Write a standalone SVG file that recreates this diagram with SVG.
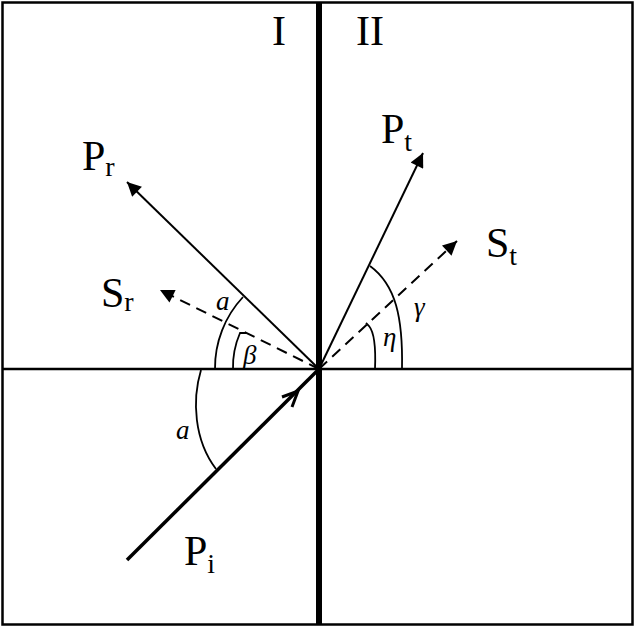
<svg xmlns="http://www.w3.org/2000/svg" width="637" height="630" viewBox="0 0 637 630">
<defs>
<style>
.ln{stroke:#000;stroke-width:2;fill:none}
.ds{stroke:#000;stroke-width:2;fill:none;stroke-dasharray:11 7}
.arc{stroke:#000;stroke-width:1.8;fill:none}
.lbl{font-family:"Liberation Serif","Times New Roman",serif;font-size:42px;fill:#000}
.sub{font-size:28px}
.ang{font-family:"Liberation Serif","Times New Roman",serif;font-size:27px;font-style:italic;fill:#000}
</style>
<marker id="ah" viewBox="0 0 10 10" refX="10" refY="5" markerWidth="9" markerHeight="9" markerUnits="userSpaceOnUse" orient="auto">
<path d="M0,0 L10,5 L0,10 z" fill="#000"/>
</marker>
<marker id="ahb" viewBox="0 0 10 10" refX="10" refY="5" markerWidth="16" markerHeight="14" markerUnits="userSpaceOnUse" orient="auto">
<path d="M0,0 L10,5 L0,10 z" fill="#000"/>
</marker>
</defs>
<rect width="637" height="630" fill="#fff"/>
<g id="frame">
<rect x="2.5" y="2.5" width="630" height="622" fill="none" stroke="#000" stroke-width="2.5"/>
<line x1="2" y1="369" x2="633" y2="369" stroke="#000" stroke-width="2.5"/>
<line x1="319" y1="2" x2="319" y2="625" stroke="#000" stroke-width="6"/>
</g>
<g id="connectors">
<line class="ln" x1="319" y1="369" x2="127" y2="182" marker-end="url(#ahb)"/>
<line class="ds" x1="319" y1="369" x2="160" y2="290" marker-end="url(#ahb)"/>
<line class="ln" x1="319" y1="369" x2="423" y2="153" marker-end="url(#ahb)"/>
<line class="ds" x1="319" y1="369" x2="457" y2="241" marker-end="url(#ahb)"/>
<line x1="127" y1="560" x2="319" y2="369" stroke="#000" stroke-width="3.5"/>
<polyline points="282,397 298,391 292,407" fill="none" stroke="#000" stroke-width="3"/>
</g>
<g id="angles">
<path class="arc" d="M215,369 A104,104 0 0 1 243,297"/>
<path class="arc" d="M233,369 A86,86 0 0 1 240,333 L246,333"/>
<path class="arc" d="M201,370 C192,400 194,440 216,469"/>
<path class="arc" d="M402,369 C403,318 396,285 370,266"/>
<path class="arc" d="M375,369 C376,345 374,332 369,326 L366,323"/>
</g>
<g id="labels">
<text class="lbl" x="272" y="45">I</text>
<text class="lbl" x="356" y="45">II</text>
<text class="lbl" x="82" y="170">P<tspan class="sub" dy="6">r</tspan></text>
<text class="lbl" x="101" y="307">S<tspan class="sub" dy="4">r</tspan></text>
<text class="lbl" x="381" y="143">P<tspan class="sub" dy="8">t</tspan></text>
<text class="lbl" x="486" y="257">S<tspan class="sub" dy="8">t</tspan></text>
<text class="lbl" x="184" y="565">P<tspan class="sub" dy="8">i</tspan></text>
<text class="ang" x="216" y="310">a</text>
<text class="ang" x="243" y="364">β</text>
<text class="ang" x="176" y="439">a</text>
<text class="ang" x="414" y="316">γ</text>
<text class="ang" x="383" y="346">η</text>
</g>
</svg>
